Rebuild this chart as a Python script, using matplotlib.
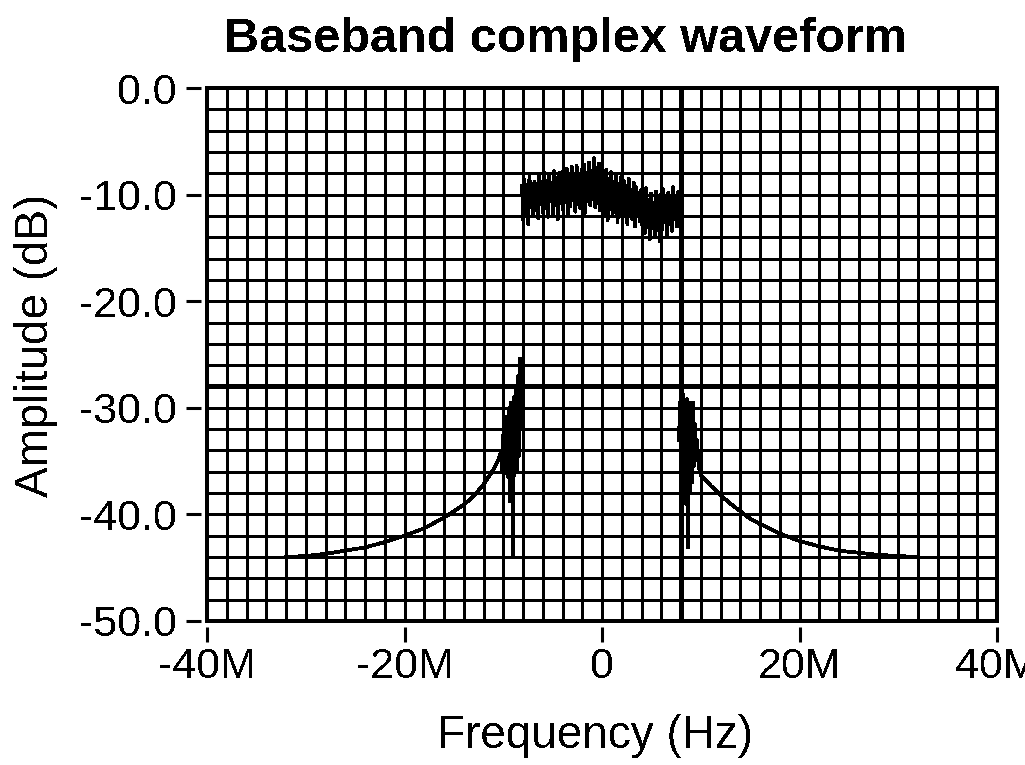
import numpy as np
import matplotlib
matplotlib.use("Agg")
import matplotlib.pyplot as plt
from matplotlib.patches import Rectangle
from matplotlib.ticker import MultipleLocator

# ---- data (frequency in MHz, amplitude in dB) ----
x_tick_values = [-40e6, -20e6, 0, 20e6, 40e6]
x_tick_labels = ["-40M", "-20M", "0", "20M", "40M"]
y_tick_values = [0, -10, -20, -30, -40, -50]
y_tick_labels = ["0.0", "-10.0", "-20.0", "-30.0", "-40.0", "-50.0"]

# in-band spectrum, evenly spaced bins from -8.1 MHz to 8.1 MHz
band_db = [
    -9.2, -12.4, -8.6, -11.8, -9.5, -12.8, -8.3, -11.2, -10.1, -12.0, -8.8, -11.5,
    -9.0, -12.2, -8.1, -10.9, -9.4, -11.7, -7.9, -11.3, -8.7, -12.1, -8.2, -10.6,
    -9.1, -11.9, -7.8, -11.0, -8.4, -12.3, -8.0, -10.8,
    -7.9, -11.4, -8.3, -10.7, -7.6, -11.8, -8.8, -11.1, -7.4, -10.5, -8.1, -11.6,
    -7.3, -10.9, -8.6, -11.3, -7.7, -10.2, -7.2, -11.7, -8.0, -10.6, -7.0, -11.0,
    -7.8, -10.4, -6.6, -11.2, -7.5, -10.8, -7.1, -11.5,
    -7.4, -10.9, -8.2, -11.8, -7.7, -12.4, -8.5, -11.1, -7.9, -12.0, -8.8, -11.5,
    -8.1, -12.6, -9.0, -11.3, -8.3, -12.2, -8.7, -11.7, -9.2, -12.8, -8.5, -11.4,
    -9.6, -12.3, -8.9, -13.0, -9.3, -11.9, -9.8, -12.5,
    -9.6, -12.9, -10.1, -13.6, -9.4, -12.4, -10.5, -14.2, -9.9, -13.1, -10.8, -13.8,
    -9.7, -12.7, -10.3, -14.4, -10.0, -13.3, -9.5, -12.6, -10.6, -13.9, -9.8, -12.8,
    -10.2, -13.4, -9.3, -12.3, -10.4, -13.0, -9.7, -12.1, -9.9, -11.6,
]
band_freq_mhz = np.linspace(-8.1, 8.1, len(band_db))

# lower out-of-band skirt
left_freq_mhz = [
    -32.0, -30.0, -28.0, -26.0, -24.0, -22.0, -20.0, -18.0, -16.0, -14.0, -13.0,
    -12.0, -11.0, -10.5, -10.2,
    -10.1, -10.0, -9.9, -9.8, -9.7, -9.6, -9.5, -9.4, -9.3, -9.2, -9.1, -9.0,
    -8.9, -8.8, -8.7, -8.6, -8.5, -8.4, -8.3, -8.2,
]
left_db = [
    -44.0, -43.9, -43.7, -43.4, -43.1, -42.6, -42.0, -41.3, -40.3, -39.1, -38.3,
    -37.2, -35.8, -34.9, -34.0,
    -36.0, -32.5, -36.2, -31.5, -36.0, -30.8, -36.5, -30.0, -38.8, -29.5, -36.0, -43.8,
    -29.0, -35.5, -28.0, -36.0, -27.0, -34.5, -25.4, -32.0,
]

# upper out-of-band skirt
right_freq_mhz = [
    7.8, 7.9, 8.0, 8.1, 8.2, 8.3, 8.4, 8.5, 8.6, 8.7, 8.8, 8.9, 9.0, 9.1, 9.2,
    9.3, 9.4, 9.5, 9.6, 9.8, 10.0, 11.0, 12.0, 13.0, 14.0, 15.0, 16.0, 18.0,
    20.0, 22.0, 24.0, 26.0, 28.0, 30.0, 32.0,
]
right_db = [
    -33.0, -29.5, -38.0, -46.2, -28.7, -37.0, -30.0, -39.0, -29.2, -43.1, -30.0,
    -38.0, -29.5, -37.0, -29.5, -35.5, -31.5, -34.5, -33.0, -35.5, -36.3, -37.3,
    -38.2, -39.0, -39.7, -40.4, -40.9, -41.8, -42.5, -43.0, -43.4, -43.6, -43.8,
    -43.9, -44.0,
]

# cursor positions
cursor_freq = 8e6
cursor_db = -28.0

# ---- style ----
plt.rcParams["font.family"] = ["Liberation Sans", "DejaVu Sans"]
plt.rcParams["axes.unicode_minus"] = False
plt.rcParams["lines.antialiased"] = False
plt.rcParams["patch.antialiased"] = False
plt.rcParams["text.antialiased"] = False

W, H = 1025, 765
fig = plt.figure(figsize=(W / 100, H / 100), dpi=100)
fig.patch.set_facecolor("white")
left, right, top, bottom = 207, 997, 88, 621
ax = fig.add_axes([left / W, 1 - bottom / H, (right - left) / W, (bottom - top) / H])

ax.set_xlim(-40e6, 40e6)
ax.set_ylim(-50, 0)
ax.set_xticks(x_tick_values, x_tick_labels)
ax.set_yticks(y_tick_values, y_tick_labels)
ax.xaxis.set_minor_locator(MultipleLocator(2e6))
ax.yaxis.set_minor_locator(MultipleLocator(2))
ax.grid(which="both", color="black", linewidth=1.9, zorder=1)
ax.set_axisbelow(True)

for name, sp in ax.spines.items():
    sp.set_color("none")
ax.spines["left"].set_position(("outward", 4))
ax.spines["bottom"].set_position(("outward", 4))
ax.tick_params(which="minor", length=0)
ax.tick_params(which="major", direction="out", length=10.5, width=2.2,
               color="black", labelsize=31, pad=7)
ax.tick_params(axis="x", pad=4)

ax.add_patch(Rectangle((0, 0), 1, 1, transform=ax.transAxes, fill=False,
                       edgecolor="black", linewidth=2.8, clip_on=False, zorder=4))

ax.axvline(cursor_freq, color="black", linewidth=3.6, zorder=2)
ax.axhline(cursor_db, color="black", linewidth=3.6, zorder=2)

ax.plot(band_freq_mhz * 1e6, band_db, color="black", linewidth=2.0, zorder=3)
ax.plot(np.array(left_freq_mhz) * 1e6, left_db, color="black", linewidth=2.0, zorder=3)
ax.plot(np.array(right_freq_mhz) * 1e6, right_db, color="black", linewidth=2.0, zorder=3)

fig.text(565 / W, 1 - 52 / H, "Baseband complex waveform", ha="center",
         va="baseline", fontsize=35, fontweight="bold")
fig.text(595 / W, 1 - 748 / H, "Frequency (Hz)", ha="center", va="baseline",
         fontsize=33)
fig.text(36 / W, 1 - 345 / H, "Amplitude (dB)", ha="center", va="center",
         rotation=90, fontsize=33)

fig.savefig("out.png", dpi=100, facecolor="white")
